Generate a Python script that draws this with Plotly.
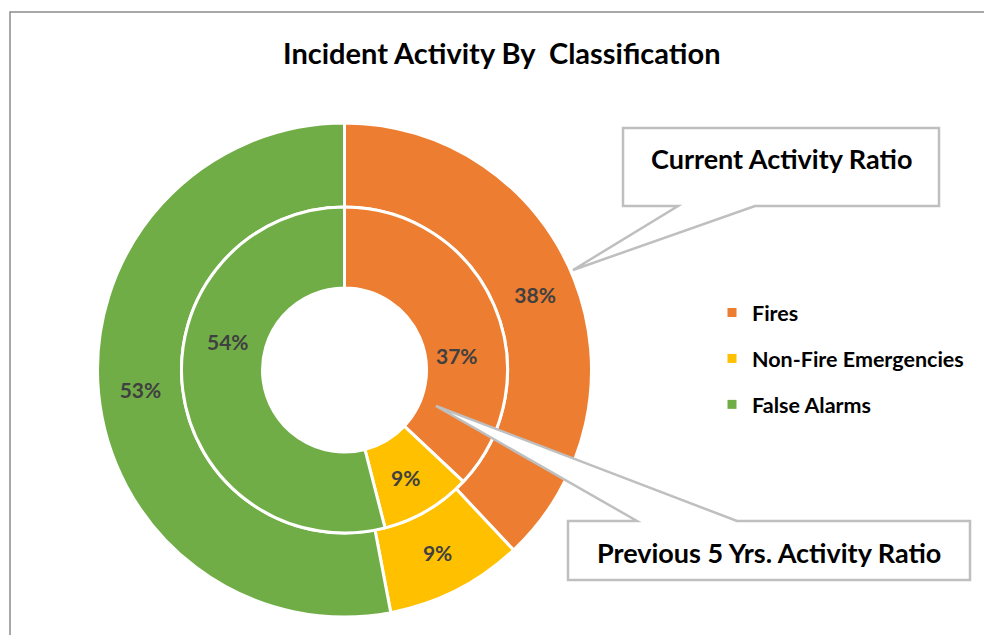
import plotly.graph_objects as go

# ---- data ----
categories = ["Fires", "Non-Fire Emergencies", "False Alarms"]
current_pct = [38, 9, 53]      # outer ring: Current Activity Ratio
previous_pct = [37, 9, 54]     # inner ring: Previous 5 Yrs. Activity Ratio
colors = ["#ED7D31", "#FFC000", "#70AD47"]

W, H = 984, 635
FONT = "Lato"


def px(x):
    return x / W


def py(y):
    return 1 - y / H


cx, cy = 344.5, 370
R_out, R_mid, R_in = 247, 163, 82

fig = go.Figure()

# outer ring
fig.add_trace(go.Pie(
    labels=categories, values=current_pct, sort=False, direction="clockwise", rotation=0,
    hole=R_mid / R_out,
    domain=dict(x=[px(cx - R_out), px(cx + R_out)], y=[py(cy + R_out), py(cy - R_out)]),
    marker=dict(colors=colors, line=dict(color="white", width=3)),
    texttemplate="%{value}%", textposition="inside",
    insidetextorientation="horizontal",
    textfont=dict(family=FONT, size=21, color="#404040", weight="bold"),
    showlegend=False, hoverinfo="label+percent",
))

# inner ring
fig.add_trace(go.Pie(
    labels=categories, values=previous_pct, sort=False, direction="clockwise", rotation=0,
    hole=R_in / R_mid,
    domain=dict(x=[px(cx - R_mid), px(cx + R_mid)], y=[py(cy + R_mid), py(cy - R_mid)]),
    marker=dict(colors=colors, line=dict(color="white", width=3)),
    textinfo="none", textposition="none",
    showlegend=False, hoverinfo="label+percent",
))

# legend entries (dummy traces so spacing can match)
for i, (c, col) in enumerate(zip(categories, colors)):
    fig.add_trace(go.Scatter(
        x=[None], y=[None], mode="markers", name=c,
        marker=dict(symbol="square", size=9, color=col),
        legendgroup=f"g{i}", showlegend=True,
    ))

# inner ring labels (Excel-style positions)
inner_label_pos = [(457, 355), (405, 477), (228, 341)]
annotations = []
for v, (lx, ly) in zip(previous_pct, inner_label_pos):
    annotations.append(dict(
        x=px(lx), y=py(ly), xref="paper", yref="paper", text=f"{v}%", showarrow=False,
        font=dict(family=FONT, size=21, color="#404040", weight="bold"),
        xanchor="center", yanchor="middle",
    ))

# title
annotations.append(dict(
    x=px(502), y=py(53), xref="paper", yref="paper",
    text="Incident Activity By \u00a0Classification", showarrow=False,
    font=dict(family=FONT, size=29, color="black", weight="bold"),
    xanchor="center", yanchor="middle",
))

# callout texts
annotations.append(dict(
    x=px(781), y=py(158), xref="paper", yref="paper", text="Current Activity Ratio",
    showarrow=False, font=dict(family=FONT, size=27, color="black", weight="bold"),
    xanchor="center", yanchor="middle",
))
annotations.append(dict(
    x=px(769), y=py(552), xref="paper", yref="paper", text="Previous 5 Yrs. Activity Ratio",
    showarrow=False, font=dict(family=FONT, size=27, color="black", weight="bold"),
    xanchor="center", yanchor="middle",
))


def poly(points):
    return "M " + " L ".join(f"{px(x)},{py(y)}" for x, y in points) + " Z"


callout_line = dict(color="#BFBFBF", width=2.5)
shapes = [
    # chart frame
    dict(type="rect", xref="paper", yref="paper", x0=px(10), y0=py(660), x1=px(1000), y1=py(12),
         line=dict(color="#8C8C8C", width=1.5), fillcolor="rgba(0,0,0,0)", layer="below"),
    # current callout
    dict(type="path", xref="paper", yref="paper",
         path=poly([(623, 128), (939, 128), (939, 206), (755, 206), (573, 270), (678, 206), (623, 206)]),
         line=callout_line, fillcolor="white", layer="above"),
    # previous callout
    dict(type="path", xref="paper", yref="paper",
         path=poly([(568, 521), (637, 521), (436, 406), (737, 521), (970, 521), (970, 580), (568, 580)]),
         line=callout_line, fillcolor="white", layer="above"),
]

fig.update_layout(
    width=W, height=H,
    margin=dict(l=0, r=0, t=0, b=0, autoexpand=False),
    paper_bgcolor="white", plot_bgcolor="white",
    xaxis=dict(visible=False), yaxis=dict(visible=False),
    showlegend=True,
    legend=dict(
        x=px(712), y=py(292), xanchor="left", yanchor="top",
        font=dict(family=FONT, size=21.5, color="black", weight="bold"),
        tracegroupgap=15, bgcolor="rgba(0,0,0,0)",
    ),
    annotations=annotations,
    shapes=shapes,
)

fig.write_html(
    "out.html",
    config={"displayModeBar": False},
    post_script="document.body.style.margin='0';document.body.style.overflow='hidden';",
)
